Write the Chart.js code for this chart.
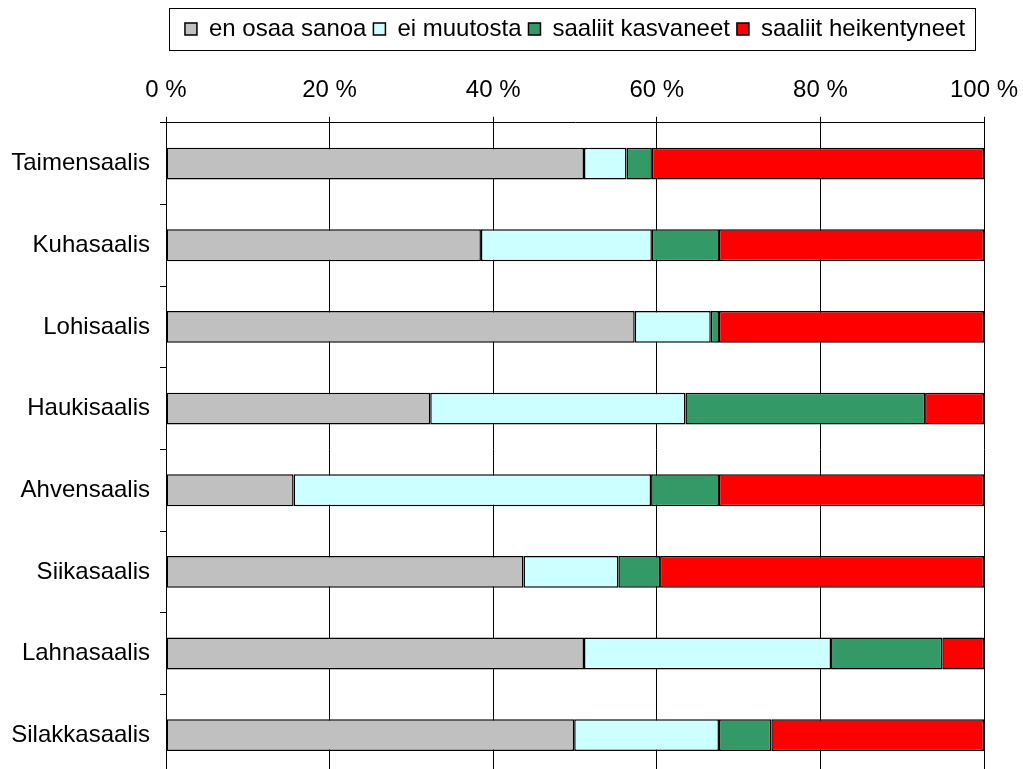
<!DOCTYPE html>
<html>
<head>
<meta charset="utf-8">
<script src="https://cdn.jsdelivr.net/npm/chart.js@4.4.1/dist/chart.umd.min.js"></script>
<style>
  html, body { margin: 0; padding: 0; background: #fff; overflow: hidden; }
  #wrap { position: relative; width: 1023px; height: 776px; }
</style>
</head>
<body>
<div id="wrap"><canvas id="chart"></canvas></div>
<script>
// Data (percent of answers)
const categories = ['Taimensaalis', 'Kuhasaalis', 'Lohisaalis', 'Haukisaalis', 'Ahvensaalis', 'Siikasaalis', 'Lahnasaalis', 'Silakkasaalis'];
const enOsaaSanoa = [51.1, 38.5, 57.3, 32.3, 15.6, 43.7, 51.1, 49.9];
const eiMuutosta = [5.2, 20.9, 9.3, 31.2, 43.7, 11.6, 30.2, 17.7];
const kasvaneet = [3.1, 8.2, 1.0, 29.3, 8.3, 5.1, 13.6, 6.4];
const heikentyneet = [40.6, 32.4, 32.4, 7.2, 32.4, 39.6, 5.1, 26.0];
const xTicks = [0, 20, 40, 60, 80, 100];

const FONT = { family: '"Liberation Sans", Arial, sans-serif', size: 24 };

// legend: extra room under it, centred over the plot, framed
const legendBox = {
  id: 'legendBox',
  beforeInit(chart) {
    const fit = chart.legend.fit;
    chart.legend.fit = function () {
      fit.bind(chart.legend)();
      this.height += 13;
    };
  },
  afterLayout(chart) {
    const lg = chart.legend, ca = chart.chartArea;
    const shift = (ca.left + ca.right) / 2 - (lg.left + lg.right) / 2;
    lg.left += shift;
    lg.right += shift;
  },
  afterDraw(chart) {
    const boxes = chart.legend.legendHitBoxes;
    if (!boxes || !boxes.length) return;
    const first = boxes[0], last = boxes[boxes.length - 1];
    const cy = first.top + first.height / 2;
    const ctx = chart.ctx;
    ctx.save();
    ctx.strokeStyle = '#000';
    ctx.lineWidth = 1;
    ctx.strokeRect(Math.round(first.left - 16) + 0.5, Math.round(cy - 21) + 0.5,
      Math.round(last.left + last.width + 10 - (first.left - 16)), 42);
    ctx.restore();
  }
};

function makeSet(label, data, color) {
  return {
    label: label,
    data: data,
    backgroundColor: color,
    borderColor: '#000',
    borderWidth: 1.5,
    borderSkipped: false,
    barPercentage: 0.39,
    categoryPercentage: 1
  };
}

const ctx = document.getElementById('chart').getContext('2d');
new Chart(ctx, {
  type: 'bar',
  data: {
    labels: categories,
    datasets: [
      makeSet('en osaa sanoa', enOsaaSanoa, '#C0C0C0'),
      makeSet('ei muutosta', eiMuutosta, '#CCFFFF'),
      makeSet('saaliit kasvaneet', kasvaneet, '#339966'),
      makeSet('saaliit heikentyneet', heikentyneet, '#FF0000')
    ]
  },
  options: {
    indexAxis: 'y',
    responsive: true,
    maintainAspectRatio: false,
    animation: false,
    layout: { padding: { top: 10, right: 39, bottom: 0, left: 0 } },
    plugins: {
      tooltip: { enabled: false },
      legend: {
        position: 'top',
        labels: {
          font: FONT,
          color: '#000',
          boxWidth: 12,
          boxHeight: 12,
          padding: 7,
          useBorderRadius: false
        }
      }
    },
    scales: {
      x: {
        position: 'top',
        stacked: true,
        min: 0,
        max: 100,
        afterBuildTicks(scale) {
          scale.ticks = xTicks.map(v => ({ value: v }));
        },
        afterFit(scale) {
          scale.paddingLeft = 0;
          scale.paddingRight = 0;
        },
        ticks: {
          font: FONT,
          color: '#000',
          padding: 12,
          maxRotation: 0,
          callback: v => v + ' %'
        },
        grid: { color: '#000', lineWidth: 1, tickLength: 6 },
        border: { color: '#000', width: 1 }
      },
      y: {
        stacked: true,
        afterFit(scale) {
          scale.width = 166;
          scale.paddingTop = 0;
          scale.paddingBottom = 0;
        },
        ticks: { font: FONT, color: '#000', padding: 10 },
        grid: { offset: true, drawOnChartArea: false, color: '#000', tickLength: 6 },
        border: { color: '#000', width: 1 }
      }
    }
  },
  plugins: [legendBox]
});
</script>
</body>
</html>
